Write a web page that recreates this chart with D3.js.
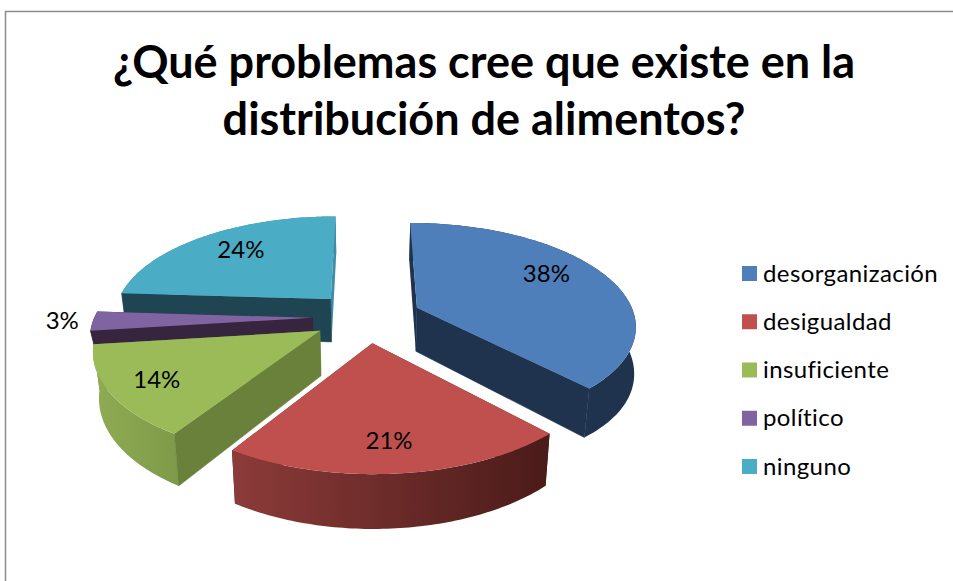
<!DOCTYPE html>
<html>
<head>
<meta charset="utf-8">
<script src="https://cdn.jsdelivr.net/npm/d3@7/dist/d3.min.js"></script>
<style>html,body{margin:0;padding:0;background:#fff}svg{display:block}</style>
</head>
<body>
<svg id="chart" width="953" height="581"></svg>
<script>
// ----- data -----
const titleLines = ["¿Qué problemas cree que existe en la", "distribución de alimentos?"];
const categories = ["desorganización", "desigualdad", "insuficiente", "político", "ninguno"];
const percents = [38, 21, 14, 3, 24];

// ----- styles / layout -----
const topColors = ["#4f7fbb", "#c0504d", "#9bbb59", "#8064a2", "#4bacc6"];
const faceColors = ["#1f334f", "#4f1e1c", "#6a813b", "#372540", "#1f4552"];
const endFaceColors = ["#1f334f", "#4f1e1c", "#6a813b", "#372540", "#3f8ea6"];
const wallStops = [["#1f334f", "#1f334f"], ["#8c3b39", "#4a1b19"], ["#8fac53", "#7f9b49"], ["#372540", "#372540"], ["#3f8ea6", "#3f8ea6"]];
const wallBulge = [0.02, 0, 0, 0, 0];
const depths = [44, 44, 44, 24, 44];
const labelRadius = [0.745, 0.78, 0.795, 1.139, 0.733];
const labelShiftDeg = [-7.7, 0.9, -0.6, 0, 2.8];
const paintOrder = [4, 3, 0, 2, 1];
const cx = 367, cy = 317, Rx = 218, Ry = 101, persp = 0.158, explode = 0.25, baseScale = 0.978;

const svg = d3.select("#chart");

// frame
svg.append("path").attr("d", "M953,11.5H5.5V581").attr("fill", "none").attr("stroke", "#8c8c8c").attr("stroke-width", 1.5);

// title
const titleY = d3.scalePoint().domain(titleLines).range([78, 135]);
svg.selectAll("text.title").data(titleLines).join("text").attr("class", "title")
  .attr("x", 484).attr("y", d => titleY(d)).attr("text-anchor", "middle")
  .attr("font-family", "Lato").attr("font-weight", 700).attr("font-size", 45).attr("fill", "#000").text(d => d);

// projection of the flat disc
function project(X, Y, low) {
  const w = 1 / (1 - persp * Y);
  let x = cx + Rx * X * w, y = cy + Ry * Y * w;
  if (low) { x = cx + (x - cx) * baseScale; y += low * w; }
  return [x, y];
}
const pie = d3.pie().sort(null).value(d => d).startAngle(0).endAngle(2 * Math.PI);
const arcs = pie(percents);
const line = d3.line();

function geom(a) {
  const mid = (a.startAngle + a.endAngle) / 2;
  const ox = explode * Math.sin(mid), oy = -explode * Math.cos(mid);
  const pt = (ang, r, low) => project(ox + r * Math.sin(ang), oy - r * Math.cos(ang), low);
  const n = Math.max(8, Math.round((a.endAngle - a.startAngle) * 60));
  const angs = d3.range(n + 1).map(i => a.startAngle + (a.endAngle - a.startAngle) * i / n);
  return { pt, angs, mid };
}

const defs = svg.append("defs");
paintOrder.forEach(i => {
  const { pt, angs } = geom(arcs[i]);
  const d = depths[i];
  const apexT = pt(0, 0, 0), apexB = pt(0, 0, d);
  const s = arcs[i].startAngle, e = arcs[i].endAngle;
  const g = svg.append("g").attr("class", "slice");
  const drawFace = (ang, color, front) => g.append("path").attr("fill", color)
    .attr("stroke", front ? color : "none").attr("stroke-width", 0.6)
    .attr("d", line([apexT, pt(ang, 1, 0), pt(ang, 1, d), apexB]) + "Z");
  const startFront = Math.sin(s) < -1e-6, endFront = Math.sin(e) > 1e-6;
  // faces turned away from the viewer go first
  if (!startFront) drawFace(s, faceColors[i], false);
  if (!endFront) drawFace(e, endFaceColors[i], false);
  // outer wall
  const topPts = angs.map(t => pt(t, 1, 0));
  const lowPts = angs.map(t => {
    const f = (t - s) / (e - s);
    return pt(t, 1 + wallBulge[i] * Math.sin(Math.PI * f * f * f), d);
  }).reverse();
  const xs = d3.extent(topPts, p => p[0]);
  const gid = "wall" + i;
  const lg = defs.append("linearGradient").attr("id", gid).attr("gradientUnits", "userSpaceOnUse")
    .attr("x1", xs[0]).attr("x2", xs[1]).attr("y1", 0).attr("y2", 0);
  lg.append("stop").attr("offset", 0).attr("stop-color", wallStops[i][0]);
  lg.append("stop").attr("offset", 1).attr("stop-color", wallStops[i][1]);
  g.append("path").attr("fill", `url(#${gid})`).attr("d", line(topPts.concat(lowPts)) + "Z");
  // faces turned towards the viewer
  if (startFront) drawFace(s, faceColors[i], true);
  if (endFront) drawFace(e, endFaceColors[i], true);
  // top
  g.append("path").attr("fill", topColors[i]).attr("d", line([apexT, ...topPts]) + "Z");
});

// data labels
arcs.forEach((a, i) => {
  const { pt, mid } = geom(a);
  const p = pt(mid + labelShiftDeg[i] * Math.PI / 180, labelRadius[i], 0);
  svg.append("text").attr("x", p[0]).attr("y", p[1] + 8).attr("text-anchor", "middle")
    .attr("font-family", "Lato").attr("font-size", 24).attr("fill", "#000").text(percents[i] + "%");
});

// legend
const legendY = d3.scalePoint().domain(categories).range([273.5, 466.5]);
const legend = svg.selectAll("g.legend").data(categories).join("g").attr("class", "legend")
  .attr("transform", d => `translate(0,${legendY(d)})`);
legend.append("rect").attr("x", 742).attr("y", -7.5).attr("width", 15).attr("height", 15)
  .attr("fill", (d, i) => topColors[i]);
legend.append("text").attr("x", 763).attr("y", 8).attr("font-family", "Lato").attr("font-size", 24)
  .attr("letter-spacing", 0.4).attr("fill", "#000").text(d => d);
</script>
</body>
</html>
